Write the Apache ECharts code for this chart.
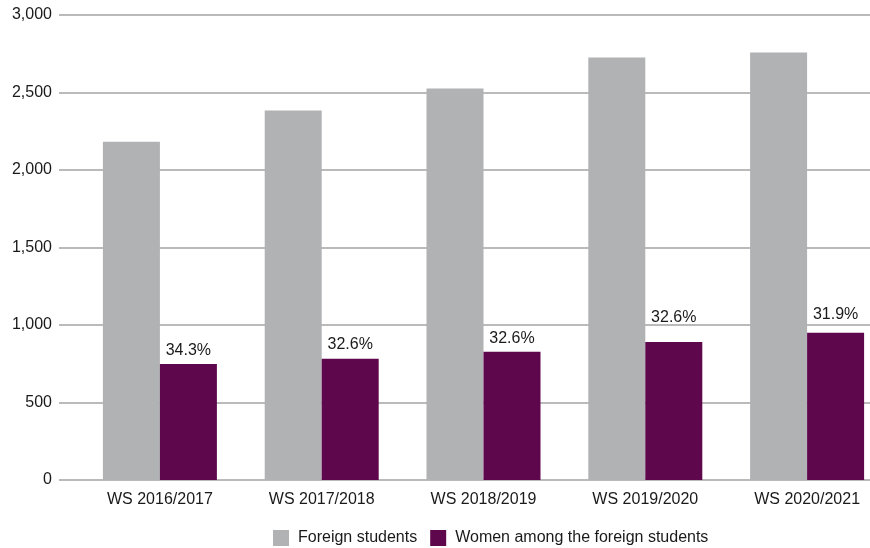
<!DOCTYPE html>
<html>
<head>
<meta charset="utf-8">
<script src="https://cdn.jsdelivr.net/npm/echarts@6/dist/echarts.min.js"></script>
<style>
html,body{margin:0;padding:0;background:#fff;}
#chart{width:870px;height:548px;}
</style>
</head>
<body>
<div id="chart"></div>
<script>
const categories = ['WS 2016/2017', 'WS 2017/2018', 'WS 2018/2019', 'WS 2019/2020', 'WS 2020/2021'];
const foreignStudents = [2183, 2384, 2526, 2726, 2758];
const womenForeign = [749, 782, 827, 891, 950];
const womenShareLabels = ['34.3%', '32.6%', '32.6%', '32.6%', '31.9%'];
const seriesNames = ['Foreign students', 'Women among the foreign students'];

const labelDistance = [5, 6, 5, 16, 10];
const FONT = '"Liberation Sans", Arial, sans-serif';

const chart = echarts.init(document.getElementById('chart'));
const yCommon = { type: 'value', min: 0, max: 3000, interval: 500 };
chart.setOption({
  animation: false,
  textStyle: { fontFamily: FONT },
  grid: [
    { left: 59, width: 811, top: 15, bottom: 68, outerBoundsMode: 'none' },
    { left: 79, width: 809, top: 15, bottom: 68, outerBoundsMode: 'none' }
  ],
  xAxis: [
    { type: 'category', gridIndex: 0, data: categories, show: false },
    {
      type: 'category', gridIndex: 1, data: categories,
      axisLine: { show: false }, axisTick: { show: false },
      axisLabel: { color: '#1a1a1a', fontSize: 16, fontFamily: FONT, margin: 12 }
    }
  ],
  yAxis: [
    Object.assign({}, yCommon, {
      gridIndex: 0,
      axisLine: { show: false }, axisTick: { show: false },
      axisLabel: {
        color: '#1a1a1a', fontSize: 16, fontFamily: FONT, margin: 7,
        padding: [4, 0, 0, 0],
        formatter: v => v.toLocaleString('en-US')
      },
      splitLine: { show: true, lineStyle: { color: '#a3a3a3', width: 1.5 } }
    }),
    Object.assign({}, yCommon, {
      gridIndex: 1, show: false, splitLine: { show: false }
    })
  ],
  legend: {
    left: 273, top: 530, padding: 0,
    itemWidth: 16, itemHeight: 16, itemGap: 13,
    icon: 'rect',
    textStyle: { color: '#1a1a1a', fontSize: 16, fontFamily: FONT, padding: [0, 0, 0, 4] },
    data: seriesNames
  },
  series: [
    {
      name: seriesNames[0], type: 'bar', xAxisIndex: 1, yAxisIndex: 1,
      data: foreignStudents, barWidth: 57, barGap: '0%',
      itemStyle: { color: '#b1b2b4' }
    },
    {
      name: seriesNames[1], type: 'bar', xAxisIndex: 1, yAxisIndex: 1,
      data: womenForeign.map((v, i) => ({
        value: v,
        label: { distance: labelDistance[i] }
      })),
      barWidth: 57, barGap: '0%',
      itemStyle: { color: '#5e074d' },
      label: {
        show: true, position: 'top', color: '#1a1a1a', fontSize: 16, fontFamily: FONT,
        formatter: p => womenShareLabels[p.dataIndex]
      }
    }
  ]
});
</script>
</body>
</html>
